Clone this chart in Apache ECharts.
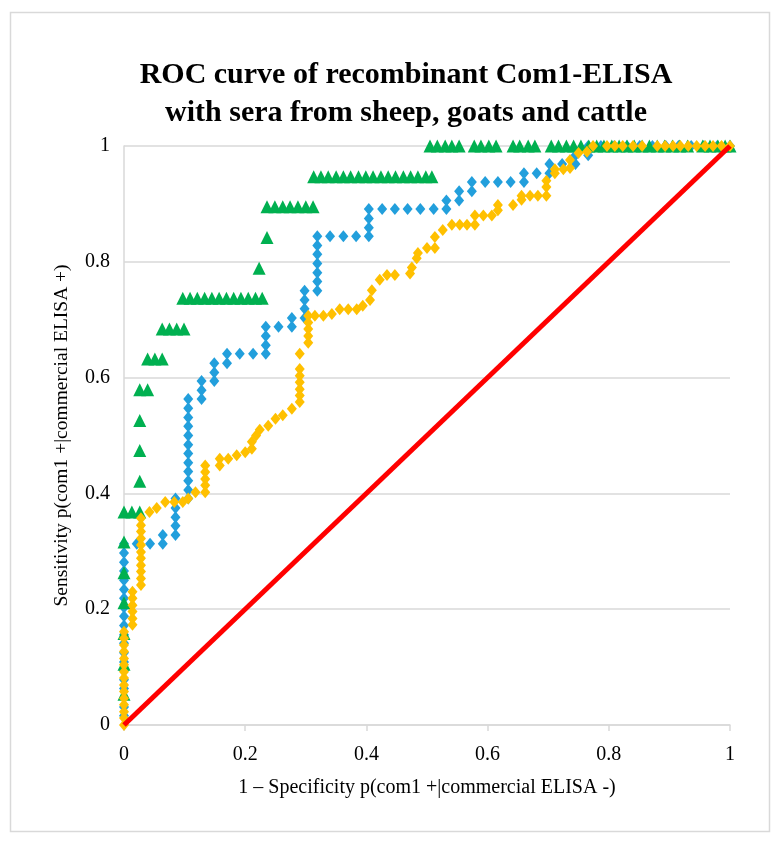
<!DOCTYPE html>
<html>
<head>
<meta charset="utf-8">
<script src="https://cdn.jsdelivr.net/npm/echarts@6/dist/echarts.min.js"></script>
<style>
html,body{margin:0;padding:0;background:#fff;}
#chart{width:780px;height:851px;}
</style>
</head>
<body>
<div id="chart"></div>
<script>
const titleLines = ['ROC curve of recombinant Com1-ELISA', 'with sera from sheep, goats and cattle'];
const xAxisName = '1 \u2013 Specificity p(com1 +|commercial ELISA -)';
const yAxisName = 'Sensitivity p(com1 +|commercial ELISA +)';
const axisTicks = [0, 0.2, 0.4, 0.6, 0.8, 1];

const diagonal = [[0, 0], [1, 1]];

const bluePoints = [
  [0,0.016],[0,0.031],[0,0.047],[0,0.063],[0,0.078],[0,0.094],[0,0.109],[0,0.125],[0,0.141],[0,0.156],
  [0,0.172],[0,0.188],[0,0.203],[0,0.219],[0,0.234],[0,0.250],[0,0.266],[0,0.281],[0,0.297],[0,0.313],
  [0.021,0.313],[0.043,0.313],[0.064,0.313],[0.064,0.328],[0.085,0.328],[0.085,0.344],[0.085,0.359],
  [0.085,0.375],[0.085,0.391],[0.106,0.391],[0.106,0.406],[0.106,0.422],[0.106,0.438],[0.106,0.453],
  [0.106,0.469],[0.106,0.484],[0.106,0.500],[0.106,0.516],[0.106,0.531],[0.106,0.547],[0.106,0.563],
  [0.128,0.563],[0.128,0.578],[0.128,0.594],[0.149,0.594],[0.149,0.609],[0.149,0.625],[0.170,0.625],
  [0.170,0.641],[0.191,0.641],[0.213,0.641],[0.234,0.641],[0.234,0.656],[0.234,0.672],[0.234,0.688],
  [0.255,0.688],[0.277,0.688],[0.277,0.703],[0.298,0.703],[0.298,0.719],[0.298,0.734],[0.298,0.750],
  [0.319,0.750],[0.319,0.766],[0.319,0.781],[0.319,0.797],[0.319,0.813],[0.319,0.828],[0.319,0.844],
  [0.340,0.844],[0.362,0.844],[0.383,0.844],[0.404,0.844],[0.404,0.859],[0.404,0.875],[0.404,0.891],
  [0.426,0.891],[0.447,0.891],[0.468,0.891],[0.489,0.891],[0.511,0.891],[0.532,0.891],[0.532,0.906],
  [0.553,0.906],[0.553,0.922],[0.574,0.922],[0.574,0.938],[0.596,0.938],[0.617,0.938],[0.638,0.938],
  [0.660,0.938],[0.660,0.953],[0.681,0.953],[0.702,0.953],[0.702,0.969],[0.723,0.969],[0.745,0.969],
  [0.745,0.984],[0.766,0.984],[0.766,1],[0.787,1],[0.809,1],[0.830,1],[0.851,1],[0.872,1],[0.894,1],
  [0.915,1],[0.936,1],[0.957,1],[0.979,1],[1,1]
];

const greenPoints = [
  [0,0.053],[0,0.105],[0,0.158],[0,0.211],[0,0.263],[0,0.316],[0,0.368],[0.013,0.368],[0.026,0.368],
  [0.026,0.421],[0.026,0.474],[0.026,0.526],[0.026,0.579],[0.039,0.579],
  [0.039,0.632],[0.051,0.632],[0.063,0.632],
  [0.063,0.684],[0.075,0.684],[0.087,0.684],[0.099,0.684],
  [0.097,0.737],[0.109,0.737],[0.121,0.737],[0.133,0.737],[0.145,0.737],[0.157,0.737],[0.169,0.737],
  [0.181,0.737],[0.193,0.737],[0.205,0.737],[0.217,0.737],[0.228,0.737],
  [0.223,0.789],[0.236,0.842],
  [0.236,0.895],[0.249,0.895],[0.262,0.895],[0.274,0.895],[0.287,0.895],[0.300,0.895],[0.312,0.895],
  [0.313,0.947],[0.325,0.947],[0.337,0.947],[0.350,0.947],[0.362,0.947],[0.374,0.947],[0.387,0.947],
  [0.399,0.947],[0.411,0.947],[0.424,0.947],[0.436,0.947],[0.448,0.947],[0.461,0.947],[0.473,0.947],
  [0.485,0.947],[0.498,0.947],[0.508,0.947],
  [0.505,1],[0.517,1],[0.530,1],[0.541,1],[0.553,1],[0.578,1],[0.589,1],[0.602,1],[0.614,1],
  [0.642,1],[0.653,1],[0.667,1],[0.678,1],[0.705,1],[0.717,1],[0.730,1],[0.742,1],[0.754,1],
  [0.767,1],[0.780,1],[0.792,1],[0.805,1],[0.817,1],[0.830,1],[0.842,1],[0.855,1],[0.867,1],
  [0.880,1],[0.892,1],[0.905,1],[0.917,1],[0.930,1],[0.955,1],[0.967,1],[0.980,1],[0.992,1],[1,1]
];

const yellowPoints = [
  [0,0],[0,0.012],[0,0.023],[0,0.035],[0,0.046],[0,0.058],[0,0.069],[0,0.081],[0,0.092],[0,0.104],
  [0,0.115],[0,0.127],[0,0.138],[0,0.150],[0,0.161],
  [0.014,0.173],[0.014,0.184],[0.014,0.196],[0.014,0.207],[0.014,0.219],[0.014,0.230],
  [0.028,0.242],[0.028,0.253],[0.028,0.265],[0.028,0.276],[0.028,0.288],[0.028,0.299],[0.028,0.311],
  [0.028,0.322],[0.028,0.334],[0.028,0.345],[0.028,0.357],
  [0.042,0.368],[0.054,0.375],[0.068,0.385],[0.083,0.385],[0.097,0.385],[0.106,0.391],[0.118,0.402],
  [0.134,0.402],[0.134,0.414],[0.134,0.425],[0.134,0.437],[0.134,0.448],[0.158,0.448],[0.158,0.460],
  [0.172,0.460],[0.186,0.466],[0.200,0.471],[0.211,0.477],[0.211,0.489],[0.218,0.500],[0.224,0.510],
  [0.238,0.517],[0.250,0.529],[0.262,0.535],[0.277,0.546],[0.290,0.558],[0.290,0.569],[0.290,0.580],
  [0.290,0.592],[0.290,0.603],[0.290,0.615],[0.290,0.641],[0.304,0.660],[0.304,0.672],[0.304,0.684],
  [0.304,0.695],[0.304,0.707],[0.315,0.707],[0.329,0.707],[0.343,0.710],[0.356,0.718],[0.370,0.718],
  [0.384,0.718],[0.394,0.724],[0.406,0.734],[0.409,0.751],[0.422,0.769],[0.434,0.777],[0.447,0.777],
  [0.472,0.780],[0.475,0.790],[0.483,0.806],[0.485,0.815],[0.500,0.824],[0.513,0.824],[0.513,0.843],
  [0.526,0.855],[0.541,0.864],[0.554,0.864],[0.566,0.864],[0.579,0.864],[0.579,0.880],[0.593,0.880],
  [0.607,0.880],[0.617,0.889],[0.617,0.898],[0.642,0.898],[0.656,0.907],[0.656,0.914],[0.670,0.914],
  [0.683,0.914],[0.697,0.914],[0.697,0.929],[0.697,0.940],[0.711,0.953],[0.711,0.960],[0.725,0.960],
  [0.736,0.962],[0.736,0.976],[0.750,0.988],[0.764,0.990],[0.774,1],[0.797,1],[0.810,1],[0.823,1],
  [0.840,1],[0.855,1],[0.880,1],[0.893,1],[0.906,1],[0.918,1],[0.931,1],[0.945,1],[0.959,1],
  [0.972,1],[0.986,1],[1,1]
];

const serif = "'Liberation Serif', 'DejaVu Serif', serif";
const chart = echarts.init(document.getElementById('chart'), null, {renderer: 'canvas'});
chart.setOption({
  animation: false,
  backgroundColor: '#ffffff',
  graphic: [{
    type: 'rect',
    shape: {x: 10.5, y: 12.5, width: 759, height: 819},
    style: {fill: 'none', stroke: '#d9d9d9', lineWidth: 1.5},
    silent: true, z: -1
  }],
  title: {
    text: titleLines.join('\n'),
    left: 401,
    top: 51,
    textAlign: 'center',
    textStyle: {fontFamily: serif, fontWeight: 'bold', fontSize: 30, lineHeight: 38, color: '#000'}
  },
  grid: {left: 124, right: 50, top: 146, bottom: 126, containLabel: false},
  xAxis: {
    type: 'value', min: 0, max: 1, interval: 0.2,
    name: xAxisName, nameLocation: 'middle', nameGap: 53,
    nameTextStyle: {fontFamily: serif, fontSize: 20, color: '#000'},
    axisLine: {show: true, lineStyle: {color: '#d9d9d9', width: 1.5}},
    axisTick: {show: true, length: 6, lineStyle: {color: '#d9d9d9', width: 1.5}},
    axisLabel: {fontFamily: serif, fontSize: 20, color: '#000', margin: 20,
      formatter: v => String(axisTicks.find(t => Math.abs(t - v) < 1e-9) ?? v)},
    splitLine: {show: false}
  },
  yAxis: {
    type: 'value', min: 0, max: 1, interval: 0.2,
    name: yAxisName, nameLocation: 'middle', nameGap: 52,
    nameTextStyle: {fontFamily: serif, fontSize: 19.5, color: '#000'},
    axisLine: {show: true, lineStyle: {color: '#d9d9d9', width: 1.5}},
    axisTick: {show: false},
    axisLabel: {fontFamily: serif, fontSize: 20, color: '#000', margin: 14,
      formatter: v => String(axisTicks.find(t => Math.abs(t - v) < 1e-9) ?? v)},
    splitLine: {show: true, lineStyle: {color: '#d9d9d9', width: 1.5}}
  },
  series: [
    {type: 'line', data: diagonal, symbol: 'none', lineStyle: {color: '#ff0000', width: 5}, silent: true},
    {type: 'scatter', data: bluePoints, symbol: 'diamond', symbolSize: [10, 12], itemStyle: {color: '#229fdc', opacity: 1}},
    {type: 'scatter', data: greenPoints, symbol: 'triangle', symbolSize: [13, 13], itemStyle: {color: '#00b050', opacity: 1}},
    {type: 'scatter', data: yellowPoints, symbol: 'diamond', symbolSize: [10, 12], itemStyle: {color: '#ffc000', opacity: 1}}
  ]
});
</script>
</body>
</html>
